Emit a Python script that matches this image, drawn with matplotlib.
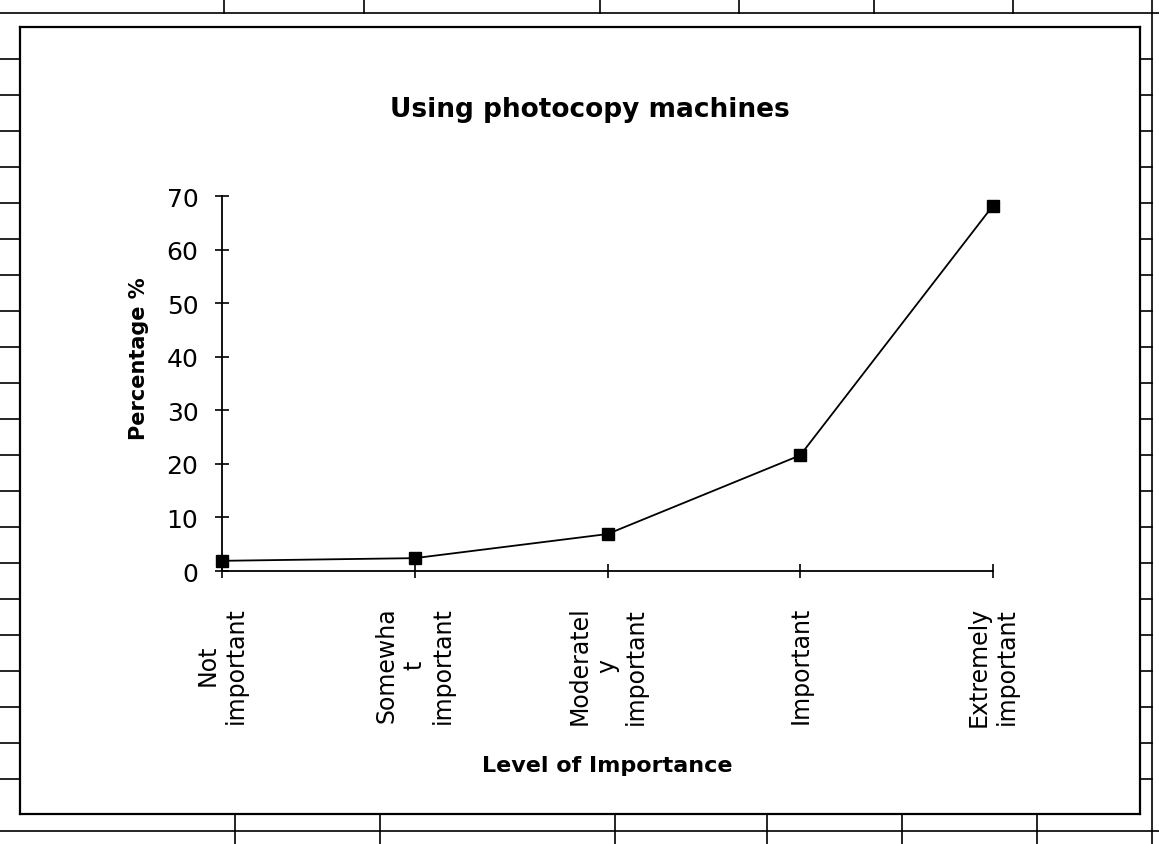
import matplotlib.pyplot as plt
from matplotlib.lines import Line2D

# Dữ liệu
categories = ["Not\nimportant", "Somewha\nt\nimportant", "Moderatel\ny\nimportant",
              "Important", "Extremely\nimportant"]
percentages = [1.9, 2.4, 6.9, 21.6, 68.2]
y_ticks = [0, 10, 20, 30, 40, 50, 60, 70]

W, H = 1159, 845
fig = plt.figure(figsize=(W / 100, H / 100), dpi=100)
plt.rcParams['font.family'] = ['DejaVu Sans']


def px(x, y):
    # pixel (từ góc trên trái) -> toạ độ figure
    return x / W, 1 - y / H


def fig_line(x0, y0, x1, y1, lw=1.2):
    (a, b), (c, d) = px(x0, y0), px(x1, y1)
    fig.add_artist(Line2D([a, c], [b, d], transform=fig.transFigure,
                          color="black", lw=lw))


# Khung biểu đồ và các ô bảng tính xung quanh
fig_line(20, 28, 1140, 28, 1.6)
fig_line(1140, 28, 1140, 815, 1.6)
fig_line(1140, 815, 20, 815, 1.6)
fig_line(20, 815, 20, 28, 1.6)
fig_line(0, 14, W, 14)
for xc in [224, 364, 600, 739, 874, 1013]:
    fig_line(xc, 0, xc, 14)
fig_line(1152, 0, 1152, H)
for yc in range(60, 815, 36):
    fig_line(1140, yc, 1152, yc)
    fig_line(0, yc, 20, yc)
fig_line(0, 832, W, 832)
for xc in [235, 380, 615, 767, 902, 1037]:
    fig_line(xc, 815, xc, H)

# Vùng vẽ
left, right, top, bottom = 222, 993, 197, 572
x0, y0 = px(left, bottom)
ax = fig.add_axes([x0, y0, (right - left) / W, (bottom - top) / H])

xs = list(range(len(categories)))
ax.plot(xs, percentages, color="black", lw=1.3, marker="s", markersize=9,
        markerfacecolor="black", clip_on=False, zorder=3)

ax.set_xlim(0, len(categories) - 1)
ax.set_ylim(0, 70)
ax.set_yticks(y_ticks)
ax.set_xticks(xs)
ax.set_xticklabels(categories, rotation=90, multialignment="center", fontsize=17)
ax.tick_params(axis="y", labelsize=18, direction="inout", length=10, width=1.2, pad=12)
ax.tick_params(axis="x", direction="inout", length=10, width=1.2, pad=20)

for s in ["top", "right"]:
    ax.spines[s].set_visible(False)
for s in ["left", "bottom"]:
    ax.spines[s].set_linewidth(1.3)

ax.set_ylabel("Percentage %", fontsize=15, fontweight="bold")
ax.yaxis.set_label_coords(-0.095, 0.57)
ax.set_xlabel("Level of Importance", fontsize=16, fontweight="bold")
ax.xaxis.set_label_coords(0.5, -0.49)

fig.text(590 / W, 1 - 110 / H, "Using photocopy machines", fontsize=19,
         fontweight="bold", ha="center", va="center")

fig.savefig("out.png", dpi=100)
